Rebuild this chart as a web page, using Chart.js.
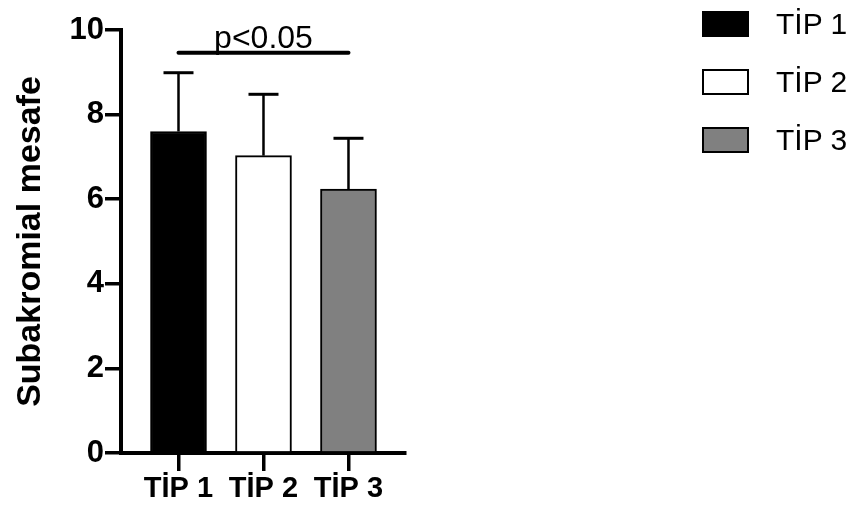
<!DOCTYPE html>
<html>
<head>
<meta charset="utf-8">
<script src="https://cdn.jsdelivr.net/npm/chart.js@4.4.1/dist/chart.umd.min.js"></script>
<style>
  body { margin: 0; background: #fff; }
  #wrap { position: relative; width: 857px; height: 510px; }
  #legend { position: absolute; left: 702px; top: 9px; font-family: "Liberation Sans", Arial, sans-serif; font-size: 30px; color: #000; }
  .item { display: flex; align-items: center; height: 30px; margin-bottom: 28px; }
  .swatch { width: 43px; height: 22px; border: 2px solid #000; margin-right: 27px; }
</style>
</head>
<body>
<div id="wrap">
  <canvas id="chart" width="857" height="510"></canvas>
  <div id="legend"></div>
</div>
<script>
const categories = ['TİP 1', 'TİP 2', 'TİP 3'];
const means = [7.6, 7.03, 6.24];
const sds = [1.39, 1.45, 1.2];
const yTicks = [0, 2, 4, 6, 8, 10];
const barColors = ['#000000', '#ffffff', '#808080'];
const sigPair = [0, 2];
const sigLevel = 9.46;
const sigLabel = 'p<0.05';
const yTitle = 'Subakromial mesafe';

const FONT = '"Liberation Sans", Arial, sans-serif';

// legend
const legend = document.getElementById('legend');
categories.forEach((c, i) => {
  const item = document.createElement('div');
  item.className = 'item';
  item.innerHTML = `<span class="swatch" style="background:${barColors[i]}"></span><span>${c}</span>`;
  legend.appendChild(item);
});

// error bars + significance bracket
const extras = {
  id: 'extras',
  afterDatasetsDraw(chart) {
    const { ctx, scales: { x, y } } = chart;
    ctx.save();
    ctx.strokeStyle = '#000';
    means.forEach((m, i) => {
      const px = x.getPixelForValue(i + 1);
      const top = y.getPixelForValue(m + sds[i]);
      const base = y.getPixelForValue(m);
      ctx.lineWidth = 2.5;
      ctx.beginPath();
      ctx.moveTo(px, base);
      ctx.lineTo(px, top);
      ctx.stroke();
      ctx.lineWidth = 3;
      ctx.beginPath();
      ctx.moveTo(px - 15, top);
      ctx.lineTo(px + 15, top);
      ctx.stroke();
    });
    const x1 = x.getPixelForValue(sigPair[0] + 1);
    const x2 = x.getPixelForValue(sigPair[1] + 1);
    const sy = y.getPixelForValue(sigLevel);
    ctx.lineWidth = 4;
    ctx.lineCap = 'round';
    ctx.beginPath();
    ctx.moveTo(x1, sy);
    ctx.lineTo(x2, sy);
    ctx.stroke();
    ctx.fillStyle = '#000';
    ctx.font = '32px ' + FONT;
    ctx.textAlign = 'center';
    ctx.textBaseline = 'alphabetic';
    ctx.fillText(sigLabel, (x1 + x2) / 2, sy - 5);
    ctx.restore();
  }
};

const axisGrid = {
  display: true,
  offset: false,
  drawOnChartArea: false,
  drawTicks: true,
  color: '#000',
  lineWidth: 3.5
};

new Chart(document.getElementById('chart'), {
  type: 'bar',
  data: {
    datasets: [{
      data: means.map((v, i) => ({ x: i + 1, y: v })),
      backgroundColor: barColors,
      borderColor: '#000',
      borderWidth: 2,
      barThickness: 56
    }]
  },
  options: {
    responsive: false,
    animation: false,
    layout: { padding: { left: 0, top: 30, right: 452, bottom: 0 } },
    plugins: {
      legend: { display: false },
      tooltip: { enabled: false }
    },
    scales: {
      x: {
        type: 'linear',
        offset: false,
        min: 0.3235,
        max: 3.665,
        afterBuildTicks: s => { s.ticks = categories.map((c, i) => ({ value: i + 1 })); },
        afterFit: s => { s.height = 57; },
        grid: { ...axisGrid, tickLength: 18 },
        border: { display: true, color: '#000', width: 4 },
        ticks: {
          callback: v => categories[v - 1] || '',
          color: '#000',
          font: { family: FONT, size: 29, weight: 'bold' },
          padding: 1,
          maxRotation: 0,
          autoSkip: false
        }
      },
      y: {
        min: 0,
        max: 10,
        afterBuildTicks: s => { s.ticks = yTicks.map(v => ({ value: v })); },
        afterFit: s => { s.width = 121; },
        grid: { ...axisGrid, tickLength: 16 },
        border: { display: true, color: '#000', width: 4 },
        ticks: {
          color: '#000',
          font: { family: FONT, size: 31, weight: 'bold' },
          padding: 1
        },
        title: {
          display: true,
          text: yTitle,
          color: '#000',
          font: { family: FONT, size: 34, weight: 'bold' },
          padding: { top: 10, bottom: 0 }
        }
      }
    }
  },
  plugins: [extras]
});
</script>
</body>
</html>
